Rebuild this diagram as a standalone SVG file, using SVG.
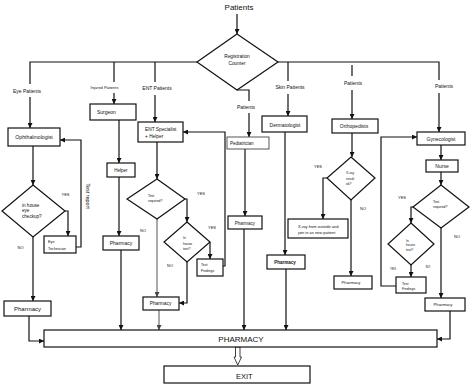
<svg xmlns="http://www.w3.org/2000/svg" width="474" height="389" viewBox="0 0 474 389">
<defs>
<marker id="ah" viewBox="0 0 10 10" refX="10" refY="5" markerWidth="5" markerHeight="5" markerUnits="userSpaceOnUse" orient="auto"><path d="M0,0 L10,5 L0,10 z" fill="#111"/></marker>
<marker id="ahg" viewBox="0 0 10 10" refX="10" refY="5" markerWidth="5" markerHeight="5" markerUnits="userSpaceOnUse" orient="auto"><path d="M0,0 L10,5 L0,10 z" fill="#444"/></marker>
</defs>
<style>
text{font-family:"Liberation Sans",Arial,sans-serif;fill:#111}
.box{fill:#fff;stroke:#111;stroke-width:1.2}
.dia{fill:#fff;stroke:#111;stroke-width:1.2}
.c{fill:none;stroke:#111;stroke-width:1.2}
.a{marker-end:url(#ah)}
.g{fill:none;stroke:#555;stroke-width:1;marker-end:url(#ahg)}
.m{text-anchor:middle}
.s5{font-size:5px}
.s4{font-size:4px}
.s35{font-size:3.5px}
</style>
<rect width="474" height="389" fill="#fff"/>

<g id="connectors">
<path class="c a" d="M237,14 V34"/>
<path class="c" d="M197,62 H30 V84"/>
<path class="c a" d="M30,97 V128"/>
<path class="c" d="M114,62 V82"/>
<path class="c a" d="M114,93 V104"/>
<path class="c" d="M155,62 V82"/>
<path class="c a" d="M155,95 V122"/>
<path class="c" d="M278,62 H439 V80"/>
<path class="c a" d="M439,93 V132"/>
<path class="c" d="M288,62 V81"/>
<path class="c a" d="M288,94 V116"/>
<path class="c" d="M352,65 V76"/>
<path class="c a" d="M352,90 V119"/>
<path class="c" d="M237,90 H249 V101"/>
<path class="c a" d="M249,113 V137"/>

<path class="c a" d="M33,146 V185"/>
<path class="c a" d="M65,211 H68 V236"/>
<path class="c a" d="M76,247 H81 V140 H60"/>
<path class="c a" d="M33,237 V301"/>
<path class="c a" d="M29,316 V341 H44"/>

<path class="c a" d="M119,120 V163"/>
<path class="c a" d="M119,177 V236"/>
<path class="c a" d="M121,250 V330"/>

<path class="c a" d="M157,142 V179"/>
<path class="c a" d="M185,199 H187 V222"/>
<path class="c a" d="M210,242 V259"/>
<path class="c a" d="M223,266 H225 V132 H183"/>
<path class="g" d="M157,219 V297"/>
<path class="c a" d="M187,262 V303 H179"/>
<path class="g" d="M159,310 V330"/>

<path class="c a" d="M245,149 V216"/>
<path class="c a" d="M244,229 V330"/>

<path class="c a" d="M285,132 V255"/>
<path class="c a" d="M286,269 V330"/>

<path class="c a" d="M352,133 V157"/>
<path class="c a" d="M327,178 H323 V219"/>
<path class="c a" d="M351,200 V276"/>

<path class="c a" d="M441,145 V160"/>
<path class="c a" d="M441,172 V185"/>
<path class="c a" d="M413,207 H411 V223"/>
<path class="c a" d="M411,265 V277"/>
<path class="c a" d="M396,286 H381 V137 H417"/>
<path class="c a" d="M441,228 V298"/>
<path class="c a" d="M450,311 V339 H437"/>

<polygon points="235.5,347 240,347 240,357 241.5,357 237.75,365 234,357 235.5,357" fill="#fff" stroke="#111" stroke-width="0.8"/>
</g>

<g id="labels">
<text class="m" x="239" y="10" font-size="8">Patients</text>
<text class="m s5" x="27" y="92.5">Eye Patients</text>
<text class="m" x="104.5" y="88.5" font-size="4">Injured Patients</text>
<text class="m s5" x="157" y="90">ENT Patients</text>
<text class="m s5" x="290" y="89">Skin Patients</text>
<text class="m s5" x="353" y="85">Patients</text>
<text class="m s5" x="444" y="88">Patients</text>
<text class="m s5" x="246" y="109">Patients</text>
<text class="m s4" x="65.5" y="195.5">YES</text>
<text class="m s4" x="20.5" y="249">NO</text>
<text class="m" x="88" y="198" font-size="5.4" transform="rotate(90 88 196)">Test report</text>
<text class="m s4" x="201" y="194.5">YES</text>
<text class="m s4" x="143" y="232">NO</text>
<text class="m s4" x="212" y="229">YES</text>
<text class="m s4" x="170" y="266.5">NO</text>
<text class="m s4" x="318" y="168">YES</text>
<text class="m s4" x="363" y="210">NO</text>
<text class="m s4" x="402" y="199">YES</text>
<text class="m s4" x="457" y="238">NO</text>
<text class="m" x="393" y="270" font-size="3">YES</text>
<text class="m" x="428" y="268" font-size="3">NO</text>
</g>

<g id="registration">
<polygon class="dia" points="237,34 278,62 237,90 197,62"/>
<text class="m" x="237" y="57.5" font-size="4.8">Registration</text>
<text class="m" x="237" y="64.5" font-size="4.8">Counter</text>
</g>

<g id="ophthalmologist">
<rect class="box" x="8" y="128" width="52" height="18"/>
<text class="m" x="34" y="139" font-size="5.2">Ophthalmologist</text>
</g>
<g id="eye-checkup">
<polygon class="dia" points="33,185 65,211 33,237 2,211"/>
<text x="22" y="206.5" font-size="4.6">in house</text>
<text x="22" y="211.5" font-size="4.6">eye</text>
<text x="22" y="217.5" font-size="4.6">checkup?</text>
</g>
<g id="eye-technician">
<rect class="box" x="44" y="236" width="32" height="17"/>
<text x="48" y="243" font-size="3.8">Eye</text>
<text x="48" y="249.5" font-size="3.8">Technician</text>
</g>
<g id="eye-pharmacy">
<rect class="box" x="4" y="301" width="47" height="15"/>
<text class="m" x="27.5" y="310.5" font-size="6">Pharmacy</text>
</g>

<g id="surgeon">
<rect class="box" x="90" y="104" width="46" height="16"/>
<text x="97" y="114" font-size="5">Surgeon</text>
</g>
<g id="helper">
<rect class="box" x="107" y="163" width="28" height="14"/>
<text class="m" x="121" y="172" font-size="4.5">Helper</text>
</g>
<g id="injured-pharmacy">
<rect class="box" x="103" y="236" width="36" height="14"/>
<text class="m" x="121" y="245" font-size="5">Pharmacy</text>
</g>

<g id="ent-specialist">
<rect class="box" x="138" y="122" width="45" height="20"/>
<text x="145" y="131" font-size="4.8">ENT Specialist</text>
<text x="145" y="137.5" font-size="4.8">+ Helper</text>
</g>
<g id="ent-test-required">
<polygon class="dia" points="157,179 185,199 157,219 127,199"/>
<text x="148" y="197" font-size="3.4">Test</text>
<text x="148" y="201.5" font-size="3.4">required?</text>
</g>
<g id="ent-in-house-test">
<polygon class="dia" points="187,222 210,242 187,262 164,242"/>
<text x="183" y="239" font-size="3.4">In</text>
<text x="183" y="244.5" font-size="3.4">house</text>
<text x="183" y="249.5" font-size="3.4">test?</text>
</g>
<g id="ent-test-findings">
<rect class="box" x="197" y="259" width="26" height="17"/>
<text x="201" y="266" font-size="3.5">Test</text>
<text x="201" y="271.5" font-size="3.5">Findings</text>
</g>
<g id="ent-pharmacy">
<rect class="box" x="143" y="297" width="36" height="13"/>
<text class="m" x="160.5" y="305" font-size="4.8">Pharmacy</text>
</g>

<g id="pediatrician">
<rect x="227" y="137" width="42" height="12" fill="#fff" stroke="#444" stroke-width="0.9"/>
<text x="230" y="145" font-size="4.5">Pediatrician</text>
</g>
<g id="pediatric-pharmacy">
<rect class="box" x="228" y="216" width="34" height="13"/>
<text class="m" x="245" y="224.5" font-size="4.5">Pharmacy</text>
</g>

<g id="dermatologist">
<rect class="box" x="262" y="116" width="45" height="16"/>
<text class="m" x="285" y="126.5" font-size="5">Dermatologist</text>
</g>
<g id="derm-pharmacy">
<rect class="box" x="267" y="255" width="38" height="14"/>
<text class="m" x="285" y="263.5" font-size="4.5" font-weight="bold">Pharmacy</text>
</g>

<g id="orthopedists">
<rect class="box" x="332" y="119" width="46" height="14"/>
<text class="m" x="354" y="128" font-size="5">Orthopedists</text>
</g>
<g id="xray-ok">
<polygon class="dia" points="351,157 375,178 351,200 327,178"/>
<text x="346" y="174" font-size="3.4">X-ray</text>
<text x="346" y="179.5" font-size="3.4">result</text>
<text x="346" y="185" font-size="3.4">ok?</text>
</g>
<g id="xray-outside">
<rect class="box" x="288" y="219" width="60" height="19"/>
<text x="298" y="228" font-size="4">X-ray from outside and</text>
<text x="298" y="234" font-size="4">join in as new patient</text>
</g>
<g id="ortho-pharmacy">
<rect class="box" x="334" y="276" width="38" height="13"/>
<text class="m" x="351" y="284" font-size="4.2">Pharmacy</text>
</g>

<g id="gynecologist">
<rect class="box" x="417" y="132" width="48" height="13"/>
<text class="m" x="441" y="140.5" font-size="5">Gynecologist</text>
</g>
<g id="nurse">
<rect class="box" x="426" y="160" width="32" height="12"/>
<text class="m" x="442" y="168" font-size="5">Nurse</text>
</g>
<g id="gyn-test-required">
<polygon class="dia" points="441,185 469,207 441,228 413,207"/>
<text x="433" y="203" font-size="3.4">Test</text>
<text x="433" y="208" font-size="3.4">required?</text>
</g>
<g id="gyn-in-house-test">
<polygon class="dia" points="411,223 434,244 411,265 388,244"/>
<text x="406" y="241.5" font-size="3.3">In</text>
<text x="406" y="246" font-size="3.3">house</text>
<text x="406" y="251" font-size="3.3">test?</text>
</g>
<g id="gyn-test-findings">
<rect class="box" x="396" y="277" width="30" height="16"/>
<text x="402" y="284.5" font-size="3.5">Test</text>
<text x="402" y="290" font-size="3.5">Findings</text>
</g>
<g id="gyn-pharmacy">
<rect class="box" x="425" y="298" width="40" height="13"/>
<text class="m" x="443" y="306" font-size="4.2">Pharmacy</text>
</g>

<g id="pharmacy-main">
<rect class="box" x="44" y="330" width="393" height="17"/>
<text class="m" x="241" y="342" font-size="8">PHARMACY</text>
</g>
<g id="exit">
<rect class="box" x="164" y="366" width="146" height="17"/>
<text x="236" y="378.5" font-size="7.5">EXIT</text>
</g>
</svg>
